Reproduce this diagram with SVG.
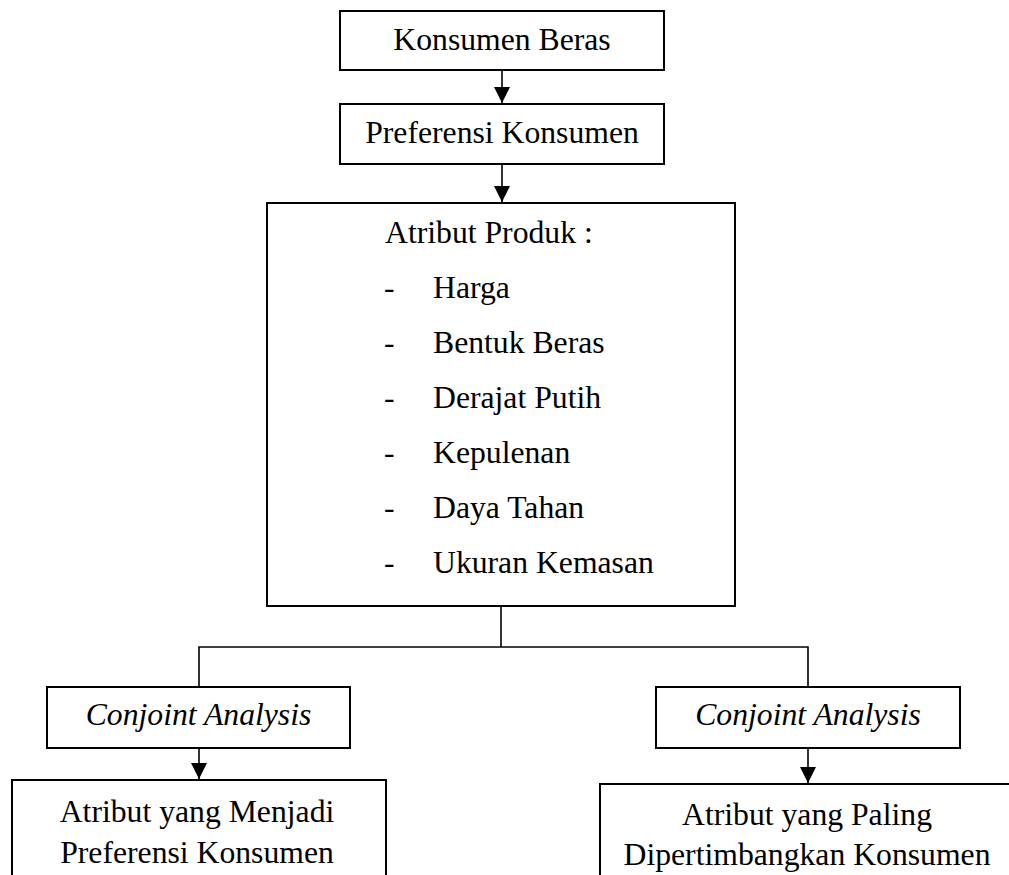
<svg xmlns="http://www.w3.org/2000/svg" width="1009" height="875" viewBox="0 0 1009 875">
<style>
.box{fill:#fff;stroke:#000;stroke-width:2}
.t{font-family:"Liberation Serif","Times New Roman",serif;font-size:31.7px;fill:#000}
.c{text-anchor:middle}
.i{font-style:italic}
.ln{fill:none;stroke:#000;stroke-width:1.6}
</style>
<defs>
<marker id="ah" viewBox="0 0 16 16" refX="16" refY="8" markerWidth="16" markerHeight="16" markerUnits="userSpaceOnUse" orient="auto">
<path d="M0,0 L16,8 L0,16 Z" fill="#000"/>
</marker>
</defs>
<rect width="1009" height="875" fill="#fff"/>
<g id="connectors">
<line class="ln" x1="502" y1="70" x2="502" y2="103" marker-end="url(#ah)"/>
<line class="ln" x1="502" y1="164" x2="502" y2="202" marker-end="url(#ah)"/>
<polyline class="ln" points="501,606 501,647"/>
<polyline class="ln" points="199,687 199,647 808,647 808,687"/>
<line class="ln" x1="199" y1="748" x2="199" y2="779" marker-end="url(#ah)"/>
<line class="ln" x1="808" y1="748" x2="808" y2="783" marker-end="url(#ah)"/>
</g>
<g id="node-konsumen">
<rect class="box" x="340" y="11" width="324" height="59"/>
<text class="t c" x="502" y="50">Konsumen Beras</text>
</g>
<g id="node-preferensi">
<rect class="box" x="340" y="104" width="324" height="60"/>
<text class="t c" x="502" y="143">Preferensi Konsumen</text>
</g>
<g id="node-atribut">
<rect class="box" x="267" y="203" width="468" height="403"/>
<text class="t" x="385" y="243">Atribut Produk :</text>
<text class="t" x="384" y="298">-</text><text class="t" x="433" y="298">Harga</text>
<text class="t" x="384" y="353">-</text><text class="t" x="433" y="353">Bentuk Beras</text>
<text class="t" x="384" y="408">-</text><text class="t" x="433" y="408">Derajat Putih</text>
<text class="t" x="384" y="463">-</text><text class="t" x="433" y="463">Kepulenan</text>
<text class="t" x="384" y="518">-</text><text class="t" x="433" y="518">Daya Tahan</text>
<text class="t" x="384" y="573">-</text><text class="t" x="433" y="573">Ukuran Kemasan</text>
</g>
<g id="node-conjoint-left">
<rect class="box" x="47" y="687" width="303" height="61"/>
<text class="t c i" x="198.5" y="725">Conjoint Analysis</text>
</g>
<g id="node-conjoint-right">
<rect class="box" x="656" y="687" width="304" height="61"/>
<text class="t c i" x="808" y="725">Conjoint Analysis</text>
</g>
<g id="node-menjadi">
<rect class="box" x="12" y="780" width="374" height="110"/>
<text class="t c" x="197" y="822">Atribut yang Menjadi</text>
<text class="t c" x="197" y="863">Preferensi Konsumen</text>
</g>
<g id="node-paling">
<rect class="box" x="600" y="784" width="414" height="110"/>
<text class="t c" x="807" y="825">Atribut yang Paling</text>
<text class="t c" x="807" y="865">Dipertimbangkan Konsumen</text>
</g>
</svg>
